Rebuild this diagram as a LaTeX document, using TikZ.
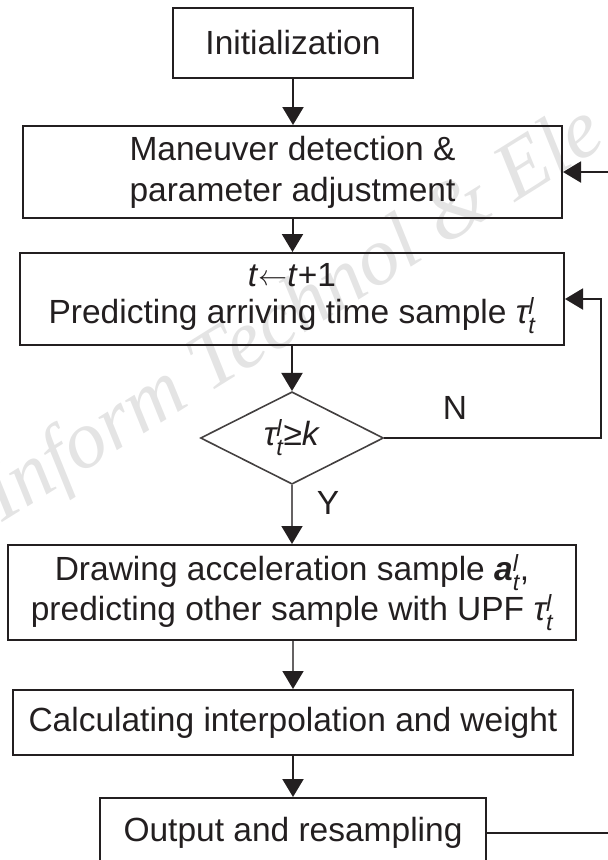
\documentclass[tikz,border=0pt]{standalone}
\usepackage{amsmath}
\usepackage{graphicx}
\usepackage{fontspec}
\setmainfont{Liberation Sans}
\newfontfamily\wmfont{Liberation Serif}
\usetikzlibrary{arrows.meta,shapes.geometric}
\definecolor{ink}{HTML}{231F20}
\definecolor{wmgray}{HTML}{E4E4E4}
\tikzset{
  stepbox/.style={draw=ink, line width=2pt, inner sep=0pt, align=center, text=ink,
    font=\fontsize{33.5pt}{41pt}\selectfont},
  decbox/.style={draw=ink!85, line width=1.6pt, diamond, inner sep=0pt, text=ink,
    font=\fontsize{33.5pt}{41pt}\selectfont},
  arr/.style={draw=ink, line width=2pt, -{Triangle[width=21pt,length=18pt]}},
  garr/.style={draw=ink!70, line width=1.6pt, -{Triangle[width=21pt,length=18pt,color=ink]}},
  lbl/.style={text=ink, font=\fontsize{33.5pt}{41pt}\selectfont},
  wm/.style={text=wmgray, font=\wmfont\itshape\fontsize{82pt}{90pt}\selectfont},
}
\newcommand{\tauvar}{{\textit{τ}}^{\textit{l}}_{\textit{t}}}
\newcommand{\getsarrow}{\raisebox{1pt}{\resizebox{29pt}{!}{$\leftarrow$}}}
\begin{document}
\begin{tikzpicture}[x=1pt,y=-1pt]
\useasboundingbox (0,0) rectangle (608,860);
\clip (0,0) rectangle (608,860);
\node[wm, rotate=32, anchor=base west, inner sep=0pt] (wmk) at (2,523) {Inform Technol \& Ele};

\node[stepbox, minimum width=240pt, minimum height=70pt] (init) at (293,43) {Initialization};
\node[stepbox, minimum width=539pt, minimum height=92pt] (man) at (292.5,172) {Maneuver detection \&\\parameter adjustment};
\node[stepbox, minimum width=544pt, minimum height=92pt, font=\fontsize{33.5pt}{37pt}\selectfont] (pred) at (292,299) {\textit{t}\getsarrow\textit{t}+1\\Predicting arriving time sample $\tauvar$};
\node[decbox, minimum width=183pt, minimum height=85pt] (dia) at (292,438) {$\tauvar$≥\textit{k}};
\node[stepbox, minimum width=568pt, minimum height=95pt, font=\fontsize{33.5pt}{40pt}\selectfont] (drw) at (292,592.5) {Drawing acceleration sample $\textbf{\textit{a}}^{\textit{l}}_{\textit{t}}$,\\predicting other sample with UPF $\tauvar$};
\node[stepbox, minimum width=560pt, minimum height=65pt] (calc) at (293,722.5) {Calculating interpolation and weight};
\node[stepbox, minimum width=386pt, minimum height=70pt] (out) at (293,833) {Output and resampling};

\coordinate (fb) at (640,500);
\coordinate (nx) at (601,400);

\draw[arr] (init.south) -- (init.south |- man.north);
\draw[arr] (man.south) -- (man.south |- pred.north);
\draw[arr] (pred.south -| dia.north) -- (dia.north);
\draw[garr] (dia.south) -- (dia.south |- drw.north);
\draw[garr] (drw.south -| calc.north) -- (calc.north);
\draw[arr] (calc.south) -- (calc.south |- out.north);
\draw[arr] (dia.east) -| (nx) |- (pred.east);
\draw[arr] (out.east) -| (fb) |- (man.east);

\node[lbl] (nlab) at (455,408) {N};
\node[lbl] (ylab) at (328,503) {Y};
\end{tikzpicture}
\end{document}
